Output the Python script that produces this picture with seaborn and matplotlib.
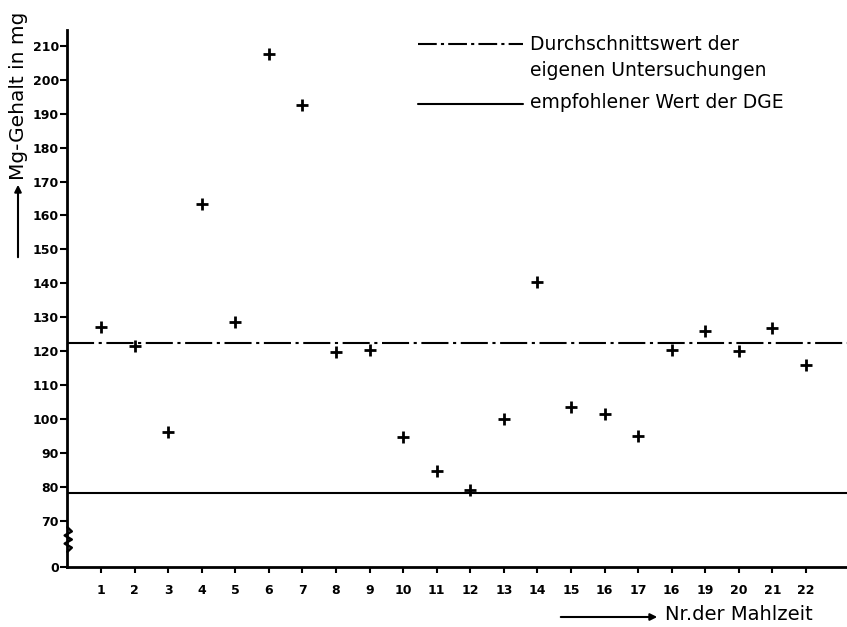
import numpy as np
import pandas as pd
import matplotlib
matplotlib.use("Agg")
import matplotlib.pyplot as plt
import seaborn as sns

# Mg-Gehalt je Mahlzeit
mahlzeit = list(range(1, 23))
mg_gehalt = [127, 121.5, 96, 163.5, 128.5, 207.5, 192.5, 119.7, 120.3, 94.7, 84.7,
             79, 100, 140.5, 103.5, 101.5, 95, 120.3, 126, 120, 126.8, 116]
x_labels = ["1", "2", "3", "4", "5", "6", "7", "8", "9", "10", "11",
            "12", "13", "14", "15", "16", "17", "16", "19", "20", "21", "22"]
y_ticks = [70, 80, 90, 100, 110, 120, 130, 140, 150, 160, 170, 180, 190, 200, 210]
mittelwert = 122.5
dge_wert = 78

# "0" sits below the axis break
null_pos = 56.3

df = pd.DataFrame({"nr": mahlzeit, "mg": mg_gehalt})

sns.set_theme(style="white")
plt.rcParams['font.family'] = ['DejaVu Sans']
plt.rcParams['text.color'] = 'black'

fig = plt.figure(figsize=(8.47, 6.27), dpi=100)
ax = fig.add_axes([67.4 / 847, 60 / 627, 1 - 67.4 / 847, 537 / 627])

ax.axhline(mittelwert, color="black", lw=1.5, dashes=(13, 2.2, 1.5, 2.2))
ax.axhline(dge_wert, color="black", lw=1.5)

sns.scatterplot(data=df, x="nr", y="mg", marker="+", s=80, linewidth=2,
                color="black", ax=ax, zorder=3)

ax.set_xlim(0, 23.22)
ax.set_ylim(null_pos, 214.7)

ax.set_xticks(mahlzeit)
ax.set_xticklabels(x_labels, fontsize=9, fontweight="bold")
ax.set_yticks([null_pos] + y_ticks)
ax.set_yticklabels(["0"] + [str(v) for v in y_ticks], fontsize=9, fontweight="bold")
ax.yaxis.get_major_ticks()[0].tick1line.set_visible(False)
ax.tick_params(axis="x", direction="out", length=4, width=1.5, pad=8, colors="black")
ax.tick_params(axis="y", direction="out", length=5, width=1.5, pad=1, colors="black")
ax.tick_params(left=True, bottom=True)

for side in ["top", "right"]:
    ax.spines[side].set_visible(False)
for side in ["left", "bottom"]:
    ax.spines[side].set_color("black")
    ax.spines[side].set_linewidth(2)

ax.set_xlabel("")
ax.set_ylabel("")

# axis break zigzag
zx = [0, 0.13, -0.08, 0.13, -0.08, 0.13, 0]
zy = [68, 66.8, 65.6, 64.4, 63.2, 62, 60.8]
ax.plot(zx, zy, color="black", lw=1.8, clip_on=False, zorder=4)

# legend drawn as in the original
fig.lines.append(plt.Line2D([418 / 847, 523 / 847], [1 - 44 / 627, 1 - 44 / 627],
                            transform=fig.transFigure, color="black", lw=1.5,
                            dashes=(9, 2, 1.5, 2)))
fig.lines.append(plt.Line2D([418 / 847, 523 / 847], [1 - 104 / 627, 1 - 104 / 627],
                            transform=fig.transFigure, color="black", lw=1.5))
fig.text(530 / 847, 1 - 45 / 627, "Durchschnittswert der", fontsize=13.5,
         va="center", ha="left")
fig.text(530 / 847, 1 - 70 / 627, "eigenen Untersuchungen", fontsize=13.5,
         va="center", ha="left")
fig.text(530 / 847, 1 - 103 / 627, "empfohlener Wert der DGE", fontsize=13.5,
         va="center", ha="left")

# axis titles with arrows
fig.text(18 / 847, 1 - 96 / 627, "Mg-Gehalt in mg", fontsize=14.5, rotation=90,
         va="center", ha="center")
ax.annotate("", xy=(18 / 847, 1 - 182 / 627), xytext=(18 / 847, 1 - 260 / 627),
            xycoords="figure fraction", textcoords="figure fraction",
            arrowprops=dict(arrowstyle="-|>", color="black", lw=1.5,
                            mutation_scale=10))
fig.text(665 / 847, 1 - 615 / 627, "Nr.der Mahlzeit", fontsize=14,
         va="center", ha="left")
ax.annotate("", xy=(660 / 847, 1 - 617 / 627), xytext=(558 / 847, 1 - 617 / 627),
            xycoords="figure fraction", textcoords="figure fraction",
            arrowprops=dict(arrowstyle="-|>", color="black", lw=1.5,
                            mutation_scale=10))

fig.savefig("out.png", dpi=100)
